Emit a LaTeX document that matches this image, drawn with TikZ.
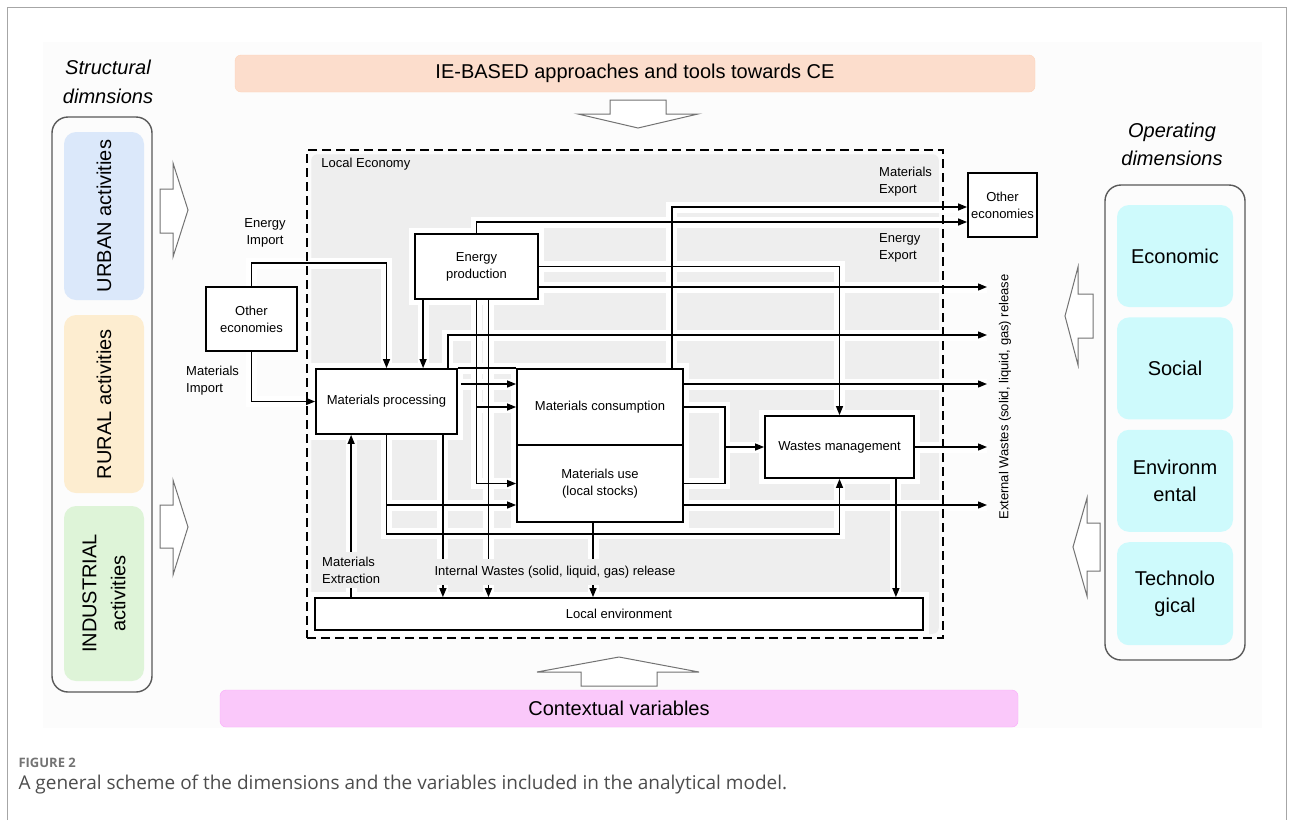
\documentclass[tikz,border=0pt]{standalone}
\usepackage{fontspec}
\setmainfont{Liberation Sans}
\newfontfamily\capfont{Open Sans}
\usetikzlibrary{arrows.meta,positioning,backgrounds,calc}
\definecolor{mypeach}{RGB}{252,221,204}
\definecolor{mypink}{RGB}{250,200,250}
\definecolor{myblue}{RGB}{219,232,250}
\definecolor{myyellow}{RGB}{253,237,208}
\definecolor{mygreen}{RGB}{222,244,216}
\definecolor{mycyan}{RGB}{206,250,252}
\definecolor{mytile}{RGB}{238,238,238}
\tikzset{
  box/.style={rectangle, draw, fill=white, line width=1.8pt, align=center, inner sep=1pt, font=\fontsize{13}{17}\selectfont},
  tag/.style={align=left, inner sep=1pt, font=\fontsize{13}{17}\selectfont},
  banner/.style={rectangle, rounded corners=6pt, minimum height=37pt, font=\fontsize{20}{24}\selectfont},
  panel/.style={rectangle, draw=black!65, line width=1.4pt, rounded corners=16pt},
  dim/.style={rectangle, rounded corners=12pt, align=center, inner sep=0pt, font=\fontsize{20}{27}\selectfont},
  frame/.style={rectangle, draw, line width=1.5pt, dash pattern=on 9pt off 5pt},
  flow/.style={draw, line width=1.3pt, -{Triangle[length=9pt,width=7pt]}},
  link/.style={draw, line width=1.3pt},
  halo/.style={draw=white, line width=11pt},
  bigarrow/.style={draw=black!55, line width=1pt, fill=white, line join=miter}
}
% all connectors of the local economy (drawn twice: halo, then line)
\newcommand{\flows}{%
  \draw[flow] (oeL.north) -- ++(0,-23) -| (mp.north);
  \draw[flow] (oeL.south) |- (mp.west);
  \draw[flow] ([xshift=9pt]ep.south west) -- ([xshift=9pt]ep.south west |- mp.north);
  \draw[flow] (ep.south) |- (mu.west);
  \draw[flow] (ep.south |- mc.west) -- (mc.west);
  \draw[link] ([xshift=12pt]ep.south) -- ([xshift=12pt]ep.south |- iw.north);
  \draw[flow] ([xshift=12pt]ep.south |- iw.south) -- ([xshift=12pt]ep.south |- le.north);
  \draw[flow] (ep.north) |- ([yshift=-17pt]oeR.west);
  \draw[flow] (ep.east) -| (wm.north);
  \draw[flow] (ep.east |- out1) -- (out1);
  \draw[flow] ([xshift=-12pt]mc.north east) |- ([yshift=-2pt]oeR.west);
  \draw[flow] ([xshift=-10pt]mp.north east) |- (out2);
  \draw[link] (mp.north east) -- (mc.north west);
  \draw[flow] ([xshift=3pt]mp.east |- out3) -- (mc.west |- out3);
  \draw[flow] (mp.south) -- ++(0,99) -| (wm.south);
  \draw[flow] (mp.south |- out5) -- (mu.west |- out5);
  \draw[link] ([xshift=-15pt]mp.south east) -- ([xshift=-15pt]mp.south east |- iw.north);
  \draw[flow] ([xshift=-15pt]mp.south east |- iw.south) -- ([xshift=-15pt]mp.south east |- le.north);
  \draw[link] (mx.south |- le.north) -- (mx.south);
  \draw[flow] (mx.north) -- (mx.north |- mp.south);
  \draw[flow] (mc.east |- out3) -- (out3);
  \draw[link] (mc.east) -- ++(41,0) |- (mu.east);
  \draw[flow] ([xshift=41pt]mc.east |- wm.west) -- (wm.west);
  \draw[flow] (mu.east |- out5) -- (out5);
  \draw[link] ([xshift=-7pt]mu.south) -- ([xshift=-7pt]mu.south |- iw.north);
  \draw[flow] ([xshift=-7pt]mu.south |- iw.south) -- ([xshift=-7pt]mu.south |- le.north);
  \draw[flow] (wm.east) -- (out4);
  \draw[flow] ([xshift=-19pt]wm.south east) -- ([xshift=-19pt]wm.south east |- le.north);
}

\begin{document}
\begin{tikzpicture}[x=1pt, y=-1pt]
\useasboundingbox (0,0) rectangle (1293,820);

% side panels
\node[font=\itshape\fontsize{20}{29}\selectfont, align=center] (structt) at (108,82) {Structural\\dimnsions};
\node[panel, minimum width=100pt, minimum height=575pt] (struct) at (102,404.5) {};
\node[dim, fill=myblue, rotate=90, minimum width=168pt, minimum height=80pt] (urban) at (104,216) {URBAN activities};
\node[dim, fill=myyellow, rotate=90, minimum width=178pt, minimum height=80pt] (rural) at (104,404) {RURAL activities};
\node[dim, fill=mygreen, rotate=90, minimum width=175pt, minimum height=80pt, font=\fontsize{20}{29}\selectfont] (indus) at (104,593.5) {INDUSTRIAL\\activities};

\node[font=\itshape\fontsize{20}{28}\selectfont, align=center] (opert) at (1172,144) {Operating\\dimensions};
\node[panel, minimum width=140pt, minimum height=475pt] (oper) at (1175,422.5) {};
\node[dim, fill=mycyan, minimum width=116pt, minimum height=102pt] (econd) at (1175,256) {Economic};
\node[dim, fill=mycyan, minimum width=116pt, minimum height=102pt, below=10pt of econd] (socd) {Social};
\node[dim, fill=mycyan, minimum width=116pt, minimum height=102pt, below=10pt of socd] (envd) {Environm\\ental};
\node[dim, fill=mycyan, minimum width=116pt, minimum height=103pt, below=10pt of envd] (techd) {Technolo\\gical};

% banners
\node[banner, fill=mypeach, draw=mypeach!90!orange, minimum width=800pt] (ie) at (635,73.5) {IE-BASED approaches and tools towards CE};
\node[banner, fill=mypink, draw=mypink!85!magenta, minimum width=798pt] (ctx) at (619,708.5) {Contextual variables};

% block arrows
\draw[bigarrow] (610,100) -- (666,100) -- (666,114) -- (698,114) -- (638,128) -- (578,114) -- (610,114) -- cycle;
\draw[bigarrow] (581,686) -- (657,686) -- (657,672) -- (699,672) -- (619,657) -- (537,672) -- (581,672) -- cycle;
\draw[bigarrow] (160,189) -- (173,189) -- (173,163) -- (188,210) -- (173,257) -- (173,233) -- (160,233) -- cycle;
\draw[bigarrow] (160,505) -- (173,505) -- (173,480) -- (188,527) -- (173,575) -- (173,548) -- (160,548) -- cycle;
\draw[bigarrow] (1093,294) -- (1078,294) -- (1078,267) -- (1065,316) -- (1078,365) -- (1078,338) -- (1093,338) -- cycle;
\draw[bigarrow] (1100,523) -- (1087,523) -- (1087,498) -- (1073,547) -- (1087,596) -- (1087,571) -- (1100,571) -- cycle;

% local economy
\node[frame, minimum width=636pt, minimum height=488pt] (econ) at (625,394) {};
\node[tag, below right=15pt and 14pt of econ.north west, anchor=west] (loc) {Local Economy};

% boxes
\node[box, minimum width=91pt, minimum height=64pt] (oeL) at (251.5,319) {Other\\economies};
\node[box, minimum width=69pt, minimum height=64pt] (oeR) at (1002.5,205) {Other\\economies};
\node[box, minimum width=123pt, minimum height=65pt] (ep) at (476.5,266.5) {Energy\\production};
\node[box, minimum width=141pt, minimum height=65pt] (mp) at (386.5,401.5) {Materials processing};
\node[box, minimum width=166pt, minimum height=76pt] (mc) at (600,407) {Materials consumption};
\node[box, minimum width=166pt, minimum height=77pt, below=-1.8pt of mc] (mu) {Materials use\\(local stocks)};
\node[box, minimum width=149pt, minimum height=62pt] (wm) at (839.5,447) {Wastes management};
\node[box, minimum width=608pt, minimum height=32pt] (le) at (619,614) {Local environment};

% labels
\node[tag, align=center] (eimp) at (265,233) {Energy\\Import};
\node[tag, anchor=west] (mimp) at (185,381) {Materials\\Import};
\node[tag, anchor=west] (mexp) at (878,182) {Materials\\Export};
\node[tag, anchor=west] (eexp) at (878,248) {Energy\\Export};
\node[tag, anchor=west, inner ysep=5pt] (mx) at (321,570) {Materials\\Extraction};
\node[tag, inner ysep=7pt] (iw) at (555,572) {Internal Wastes (solid, liquid, gas) release};
\node[tag, rotate=90] (ext) at (1005,397) {External Wastes (solid, liquid, gas) release};

\coordinate (out1) at (987,287);
\coordinate (out2) at (987,335);
\coordinate (out3) at (987,384);
\coordinate (out4) at (987,447);
\coordinate (out5) at (987,505);

\flows

\begin{scope}[on background layer]
  \draw[black!35] (7,820) |- (1286,7) -- (1286,820);
  \fill[black!1] (43,42) rectangle (1262,728);
  \fill[mytile, rounded corners=6pt] ([shift={(5,5)}]econ.north west) rectangle ([shift={(-5,-5)}]econ.south east);
  \begin{scope}[flow/.style={halo}, link/.style={halo}]
    \flows
  \end{scope}
  \foreach \b in {ep,mp,mc,mu,wm,le}
    \draw[draw=white, line width=10pt] (\b.south west) rectangle (\b.north east);
\end{scope}

% caption
\node[anchor=west, text=black!55, font=\capfont\bfseries\fontsize{13}{15}\selectfont] (fig) at (15,763) {FIGURE 2};
\node[anchor=west, text=black!70, font=\capfont\fontsize{19}{22}\selectfont] (cap) at (15,784) {A general scheme of the dimensions and the variables included in the analytical model.};

\end{tikzpicture}
\end{document}
